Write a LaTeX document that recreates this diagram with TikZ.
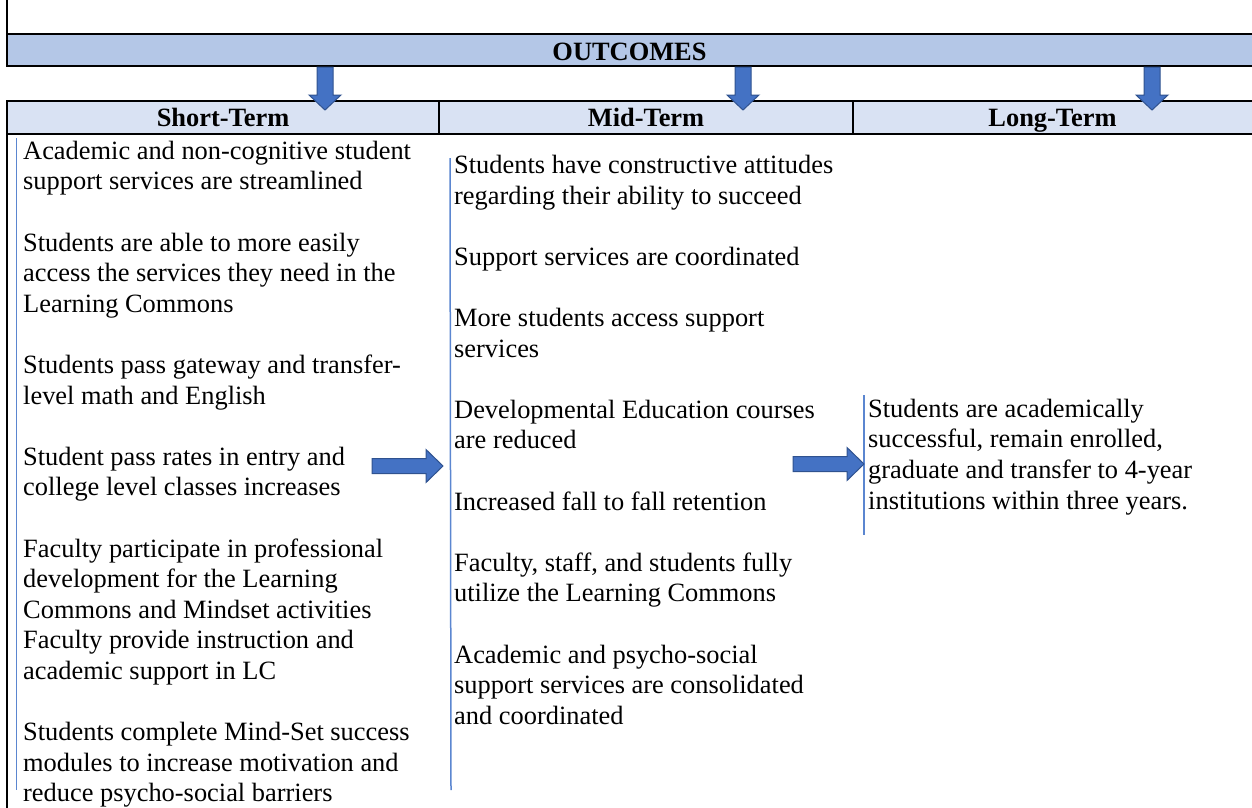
\documentclass[tikz,border=0pt]{standalone}
\usepackage{fontspec}
\setmainfont{Liberation Serif}
\definecolor{outbar}{HTML}{B4C7E7}
\definecolor{hdrfill}{HTML}{D9E2F3}
\definecolor{arrfill}{HTML}{4472C4}
\definecolor{arrdraw}{HTML}{2F528F}
\definecolor{thinblue}{HTML}{5B86D0}
\tikzset{
  border/.style={line width=2.5pt, black},
  sep/.style={line width=1.5pt, thinblue},
  blockarrow/.style={fill=arrfill, draw=arrdraw, line width=1pt, line join=miter},
  item/.style={anchor=north west, inner sep=0pt, align=left,
     font=\fontsize{26.4}{30.6}\selectfont},
  head/.style={anchor=base, inner sep=0pt, font=\fontsize{26.4}{30.6}\selectfont\bfseries},
  pics/downarrow/.style={code={
     \path[blockarrow] (-8,0) -- (8,0) -- (8,28) -- (16,28) -- (0,43) -- (-16,28) -- (-8,28) -- cycle;}},
  pics/rightarrow/.style={code={
     \path[blockarrow] (0,-7.5) -- (54,-7.5) -- (54,-16.5) -- (71,0) -- (54,16.5) -- (54,7.5) -- (0,7.5) -- cycle;}}
}
\newcommand{\fl}{\strut}
\begin{document}
\begin{tikzpicture}[x=1pt,y=-1pt]
\useasboundingbox (0,0) rectangle (1252,807);
% outcomes bar
\fill[outbar] (7,34) rectangle (1254,66);
\draw[border] (7,34) -- (1254,34);
\draw[border] (7,66) -- (1254,66);
\draw[border] (7,0) -- (7,67);
\node[head] (outcomes) at (629.5,60) {OUTCOMES};
% header row
\fill[hdrfill] (7,101) rectangle (1254,134);
\draw[border] (7,101) -- (1254,101);
\draw[border] (7,134) -- (1254,134);
\draw[border] (7,100) -- (7,808);
\draw[border] (439,101) -- (439,134);
\draw[border] (853,101) -- (853,134);
\node[head] (short) at (223,126.5) {Short-Term};
\node[head] (mid) at (646,126.5) {Mid-Term};
\node[head] (long) at (1052.5,126.5) {Long-Term};
% down arrows
\pic at (325,67) {downarrow};
\pic at (743,67) {downarrow};
\pic at (1152,67) {downarrow};
% thin blue separators
\draw[sep] (16.5,138) -- (16.5,790);
\draw[sep] (450,158) -- (451,790);
\draw[sep] (864,395) -- (864,535);
% right arrows
\pic at (372,466) {rightarrow};
\pic at (793,464) {rightarrow};
% short-term items
\def\lx{23}
\node[item] (s1) at (\lx,159-21.42) {\fl Academic and non-cognitive student\\support services are streamlined};
\node[item] (s2) at (\lx,250.8-21.42) {\fl Students are able to more easily\\access the services they need in the\\Learning Commons};
\node[item] (s3) at (\lx,373.2-21.42) {\fl Students pass gateway and transfer-\\level math and English};
\node[item] (s4) at (\lx,465-21.42) {\fl Student pass rates in entry and\\college level classes increases};
\node[item] (s5) at (\lx,556.8-21.42) {\fl Faculty participate in professional\\development for the Learning\\Commons and Mindset activities};
\node[item] (s6) at (\lx,648.6-21.42) {\fl Faculty provide instruction and\\academic support in LC};
\node[item] (s7) at (\lx,740.4-21.42) {\fl Students complete Mind-Set success\\modules to increase motivation and\\reduce psycho-social barriers};
% mid-term items
\def\mx{454}
\node[item] (m1) at (\mx,173.3-21.42) {\fl Students have constructive attitudes\\regarding their ability to succeed};
\node[item] (m2) at (\mx,265.1-21.42) {\fl Support services are coordinated};
\node[item] (m3) at (\mx,326.3-21.42) {\fl More students access support\\services};
\node[item] (m4) at (\mx,418.1-21.42) {\fl Developmental Education courses\\are reduced};
\node[item] (m5) at (\mx,509.9-21.42) {\fl Increased fall to fall retention};
\node[item] (m6) at (\mx,571.1-21.42) {\fl Faculty, staff, and students fully\\utilize the Learning Commons};
\node[item] (m7) at (\mx,662.9-21.42) {\fl Academic and psycho-social\\support services are consolidated\\and coordinated};
% long-term
\node[item] (l1) at (868,417-21.42) {\fl Students are academically\\successful, remain enrolled,\\graduate and transfer to 4-year\\institutions within three years.};
\end{tikzpicture}
\end{document}
